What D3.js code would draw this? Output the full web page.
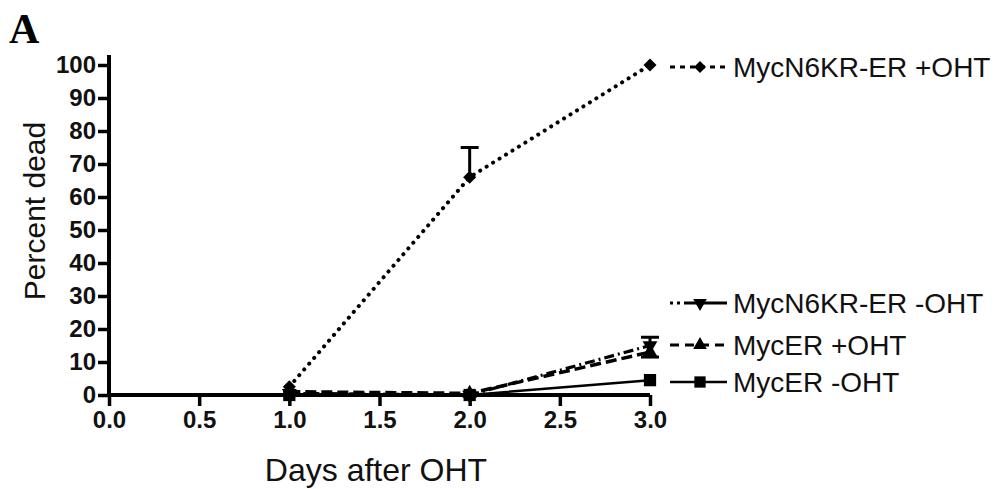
<!DOCTYPE html>
<html><head><meta charset="utf-8">
<script src="https://cdn.jsdelivr.net/npm/d3@7"></script>
<style>body{margin:0;background:#fff}svg{display:block}</style>
</head><body>
<script>
const days = [1, 2, 3];
const xTicks = [0, 0.5, 1, 1.5, 2, 2.5, 3];
const yTicks = [0, 10, 20, 30, 40, 50, 60, 70, 80, 90, 100];
const seriesNames = ["MycN6KR-ER +OHT", "MycN6KR-ER -OHT", "MycER +OHT", "MycER -OHT"];
const n6kPlus  = [2.5, 66, 100];
const n6kPlusErr = [0, 9, 0];
const n6kMinus = [0.5, 0, 15];
const n6kMinusErr = [0, 0, 2.5];
const mycPlus  = [1, 0.5, 13];
const mycPlusErr = [0, 0, -1.5];
const mycMinus = [0, 0, 4.5];
const mycMinusErr = [0, 0, 0];

const W = 1004, H = 489;
const svg = d3.select("body").append("svg").attr("width", W).attr("height", H);
const x = d3.scaleLinear().domain([0, 3]).range([109, 650]);
const y = d3.scaleLinear().domain([0, 100]).range([395, 65]);

// Panel letter
svg.append("text").attr("x", 9).attr("y", 43)
  .style("font-family", "'Liberation Serif', serif").style("font-weight", "bold")
  .style("font-size", "42px").text("A");

// Axes
const gy = svg.append("g").attr("transform", `translate(${x(0)},0)`)
  .call(d3.axisLeft(y).tickValues(yTicks).tickSize(11).tickPadding(2).tickFormat(d3.format("d")));
const gx = svg.append("g").attr("transform", `translate(0,${y(0)})`)
  .call(d3.axisBottom(x).tickValues(xTicks).tickSize(11).tickPadding(5).tickFormat(d3.format(".1f")));
[gx, gy].forEach(g => {
  g.select(".domain").remove();
  g.selectAll(".tick line").attr("stroke", "#000").attr("stroke-width", 3.5);
  g.selectAll("text").style("font-family", "'Liberation Sans', Arial, sans-serif")
    .style("font-weight", "bold").style("font-size", "24px").attr("fill", "#111");
});
svg.append("line").attr("x1", x(0)).attr("x2", x(0)).attr("y1", y(100) - 10).attr("y2", y(0))
  .attr("stroke", "#000").attr("stroke-width", 4);
svg.append("line").attr("x1", x(0)).attr("x2", x(3)).attr("y1", y(0)).attr("y2", y(0))
  .attr("stroke", "#000").attr("stroke-width", 4);

// Axis titles
svg.append("text").attr("transform", `translate(45,${211}) rotate(-90)`).attr("text-anchor", "middle")
  .style("font-family", "'Liberation Sans', Arial, sans-serif").style("font-size", "30px").attr("fill", "#111")
  .text("Percent dead");
svg.append("text").attr("x", 376).attr("y", 481).attr("text-anchor", "middle")
  .style("font-family", "'Liberation Sans', Arial, sans-serif").style("font-size", "32px").attr("fill", "#111")
  .text("Days after OHT");

const styles = [
  { vals: n6kPlus, err: n6kPlusErr, dash: "0.1,7.5", cap: "round", w: 4, sym: d3.symbolSquare, size: 85, rot: 45, ly: 67, ldash: "5,5" },
  { vals: n6kMinus, err: n6kMinusErr, dash: "10,4,2,4", cap: "butt", w: 3.2, sym: d3.symbolTriangle, size: 95, rot: 180, ly: 303, ldash: "3,4,3,4,14,2,40" },
  { vals: mycPlus, err: mycPlusErr, dash: "11,5", cap: "butt", w: 3.5, sym: d3.symbolTriangle, size: 95, rot: 0, ly: 345, ldash: "9,6" },
  { vals: mycMinus, err: mycMinusErr, dash: null, cap: "butt", w: 2.5, sym: d3.symbolSquare, size: 150, rot: 0, ly: 382, ldash: null }
];

const line = d3.line().x((d, i) => x(days[i])).y(d => y(d));

[3, 2, 1, 0].forEach(k => {
  const s = styles[k];
  const g = svg.append("g");
  g.append("path").attr("d", line(s.vals)).attr("fill", "none").attr("stroke", "#000")
    .attr("stroke-width", s.w).attr("stroke-linecap", s.cap)
    .attr("stroke-dasharray", s.dash);
  s.err.forEach((e, i) => {
    if (!e) return;
    const cx = x(days[i]), y0 = y(s.vals[i]), y1 = y(s.vals[i] + e);
    g.append("line").attr("x1", cx).attr("x2", cx).attr("y1", y0).attr("y2", y1)
      .attr("stroke", "#000").attr("stroke-width", 3);
    g.append("line").attr("x1", cx - 9).attr("x2", cx + 9).attr("y1", y1).attr("y2", y1)
      .attr("stroke", "#000").attr("stroke-width", 3);
  });
  s.vals.forEach((v, i) => {
    g.append("path").attr("d", d3.symbol().type(s.sym).size(s.size)())
      .attr("transform", `translate(${x(days[i])},${y(v)}) rotate(${s.rot})`)
      .attr("fill", "#000");
  });
});

// Legend
styles.forEach((s, k) => {
  const g = svg.append("g").attr("transform", `translate(0,${s.ly})`);
  g.append("line").attr("x1", 670).attr("x2", 727).attr("y1", 0).attr("y2", 0)
    .attr("stroke", "#000").attr("stroke-width", k === 3 ? 2.5 : 3)
    .attr("stroke-dasharray", s.ldash);
  g.append("path").attr("d", d3.symbol().type(s.sym).size(s.size * 0.85)())
    .attr("transform", `translate(700,0) rotate(${s.rot})`).attr("fill", "#000");
  g.append("text").attr("x", 733).attr("y", 10)
    .style("font-family", "'Liberation Sans', Arial, sans-serif").style("font-size", "28px").attr("fill", "#111")
    .text(seriesNames[k]);
});
</script>
</body></html>
